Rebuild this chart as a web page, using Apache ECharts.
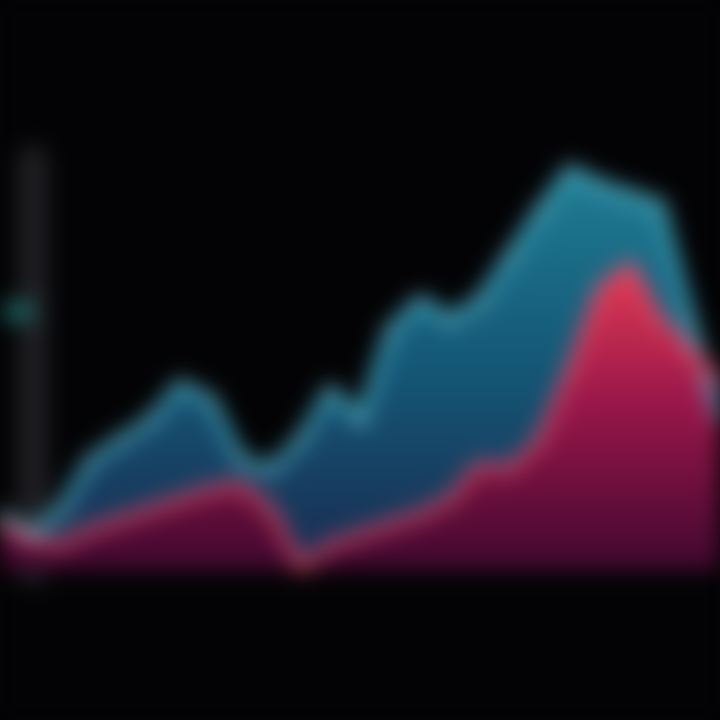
<!DOCTYPE html>
<html>
<head>
<meta charset="utf-8">
<script src="https://cdn.jsdelivr.net/npm/echarts@6/dist/echarts.min.js"></script>
<style>
html,body{margin:0;padding:0;background:#030305;width:720px;height:720px;overflow:hidden;}
#c{width:720px;height:720px;filter:blur(11px);}
</style>
</head>
<body>
<div id="c"></div>
<script>
const categories = ['1','2','3','4','5','6','7','8','9','10','11','12','13','14','15','16','17','18','19','20','21','22','23','24','25'];
const blueValues = [11.7,7.4,12.8,23.4,27.7,31.9,39.4,36.2,23.4,21.3,27.7,38.3,31.9,51.1,57.4,53.2,57.4,67.0,76.6,85.1,81.9,79.8,77.7,53.2,31.9];
const redValues = [9.6,6.4,5.3,8.5,10.6,12.8,14.9,17.0,18.1,12.8,0.5,5.3,7.4,9.6,11.7,14.9,22.3,21.3,27.7,42.6,59.6,64.9,53.2,46.8,40.4];
const yTicks = [0,55,110];

const chart = echarts.init(document.getElementById('c'), null, {renderer:'canvas'});
chart.setOption({
  backgroundColor:'#030305',
  animation:false,
  grid:{left:0,right:0,top:160,bottom:150},
  xAxis:{type:'category',data:categories,boundaryGap:false,
    axisLine:{show:false},axisTick:{show:false},axisLabel:{show:false},splitLine:{show:false}},
  yAxis:{type:'value',min:0,max:87.2,interval:55,offset:-32,
    axisLine:{show:true,lineStyle:{color:'#202024',width:30}},
    axisTick:{show:false},splitLine:{show:false},
    axisLabel:{show:true,inside:true,margin:-30,
      formatter:function(v){return v===yTicks[1]?'{t|}':'';},
      rich:{t:{width:32,height:18,backgroundColor:'#1d6a66'}}}},
  series:[
    {type:'line',data:blueValues,smooth:false,clip:false,
      symbol:'circle',symbolSize:9,showSymbol:true,
      itemStyle:{color:'#9adbe6'},
      lineStyle:{color:'#4cc4dc',width:8},
      areaStyle:{color:new echarts.graphic.LinearGradient(0,0,0,1,[
        {offset:0,color:'#2bb0d0'},{offset:0.5,color:'#1c7aa6'},{offset:1,color:'#223c70'}])}},
    {type:'line',data:redValues,smooth:false,clip:false,
      symbol:'circle',symbolSize:7,showSymbol:true,
      itemStyle:{color:'#f07888'},
      lineStyle:{color:'#f04862',width:8},
      areaStyle:{opacity:0.95,color:new echarts.graphic.LinearGradient(0,0,0,1,[
        {offset:0,color:'#ec3850'},{offset:0.45,color:'#a01448'},{offset:1,color:'#42062e'}])}}
  ]
});
</script>
</body>
</html>
